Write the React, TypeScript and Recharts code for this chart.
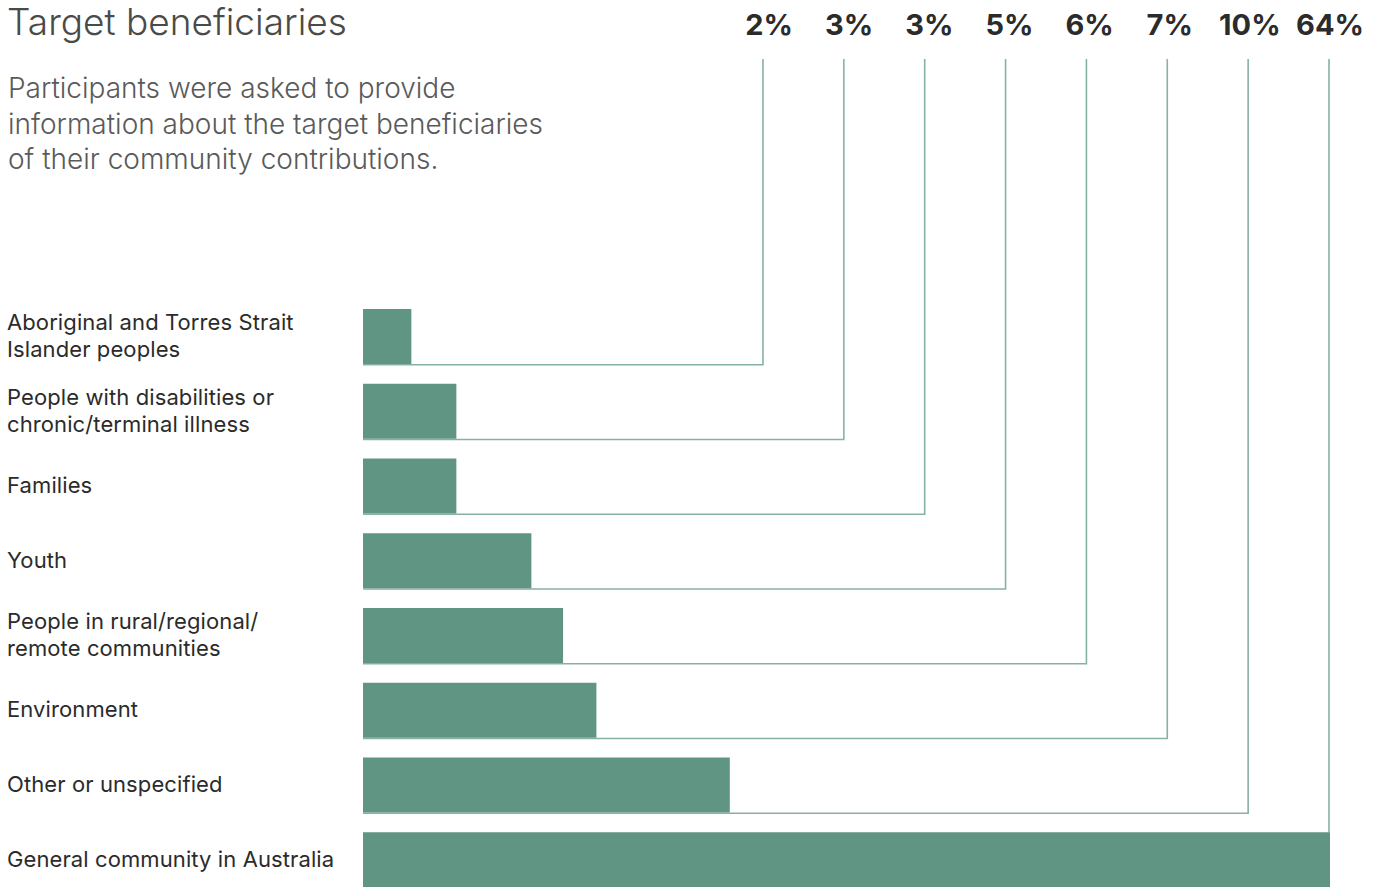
import React from 'react';
import { BarChart, Bar, XAxis, YAxis } from 'recharts';

// ---- data ----
const categories: string[] = [
  'Aboriginal and Torres Strait\nIslander peoples',
  'People with disabilities or\nchronic/terminal illness',
  'Families',
  'Youth',
  'People in rural/regional/\nremote communities',
  'Environment',
  'Other or unspecified',
  'General community in Australia',
];
const percentLabels: string[] = ['2%', '3%', '3%', '5%', '6%', '7%', '10%', '64%'];
// bar lengths as drawn in the picture (the 64% bar is truncated at the axis end)
const barLengths: number[] = [1.45, 2.8, 2.8, 5.05, 6.0, 7.0, 11.0, 29];
const AXIS_MAX = 29;

const title = 'Target beneficiaries';
const subtitleLines: string[] = [
  'Participants were asked to provide',
  'information about the target beneficiaries',
  'of their community contributions.',
];

const data = categories.map((name, i) => ({ name, value: barLengths[i], label: percentLabels[i] }));

// ---- layout ----
const W = 1381;
const H = 897;
const MARGIN = { top: 299, right: 51, bottom: 0, left: 0 };
const Y_AXIS_W = 363;
const PLOT_RIGHT = W - MARGIN.right;
const LINE_STEP = 80.86;
const LABEL_STEP = 80.14;
const LINE_TOP = 59;
const LABEL_BASELINE = 35;
const BAR_COLOR = '#619583';
const LINE_COLOR = '#86b2a3';
const FONT = 'Inter, "Noto Sans", sans-serif';

const ConnectorBar = (props: any) => {
  const { x, y, width, height, index } = props;
  const n = data.length;
  const colX = PLOT_RIGHT - 1 - (n - 1 - index) * LINE_STEP;
  const labelX = PLOT_RIGHT - (n - 1 - index) * LABEL_STEP;
  const bottom = y + height + 0.8;
  const isLast = index === n - 1;
  const d = isLast ? `M${colX},${y} V${LINE_TOP}` : `M${x},${bottom} H${colX} V${LINE_TOP}`;
  return (
    <g>
      <path d={d} stroke={LINE_COLOR} strokeWidth={1.6} fill="none" />
      <rect x={x} y={y} width={width} height={height} fill={BAR_COLOR} />
      <text
        x={labelX}
        y={LABEL_BASELINE}
        textAnchor="middle"
        fontFamily={FONT}
        fontWeight={700}
        fontSize={29}
        fill="#2b2b2b"
      >
        {data[index].label}
      </text>
    </g>
  );
};

const CategoryTick = (props: any) => {
  const { y, payload } = props;
  const lines = String(payload.value).split('\n');
  const lh = 27;
  const start = y - 1 - ((lines.length - 1) * lh) / 2;
  return (
    <text
      x={7}
      y={start}
      textAnchor="start"
      fontFamily={FONT}
      fontSize={22}
      letterSpacing={0.1}
      fill="#2b2b2b"
    >
      {lines.map((l, i) => (
        <tspan key={i} x={7} y={start + i * lh} dy="0.36em">
          {l}
        </tspan>
      ))}
    </text>
  );
};

export default function App() {
  return (
    <div
      style={{
        position: 'fixed',
        left: 0,
        top: 0,
        width: W,
        height: 887,
        overflow: 'hidden',
        background: '#fff',
      }}
    >
      <svg width={W} height={200} style={{ position: 'absolute', left: 0, top: 0 }}>
        <text x={7} y={35} fontFamily={FONT} fontWeight={300} fontSize={37} fill="#4a4a4a">
          {title}
        </text>
        {subtitleLines.map((l, i) => (
          <text
            key={i}
            x={8}
            y={98 + i * 35.5}
            fontFamily={FONT}
            fontWeight={300}
            fontSize={28}
            fill="#5a5a5a"
          >
            {l}
          </text>
        ))}
      </svg>
      <div style={{ position: 'absolute', left: 0, top: 0 }}>
        <BarChart width={W} height={H} data={data} layout="vertical" margin={MARGIN} barSize={55}>
          <XAxis type="number" domain={[0, AXIS_MAX]} hide />
          <YAxis
            type="category"
            dataKey="name"
            width={Y_AXIS_W}
            axisLine={false}
            tickLine={false}
            tick={<CategoryTick />}
            interval={0}
          />
          <Bar dataKey="value" isAnimationActive={false} shape={<ConnectorBar />} />
        </BarChart>
      </div>
    </div>
  );
}
